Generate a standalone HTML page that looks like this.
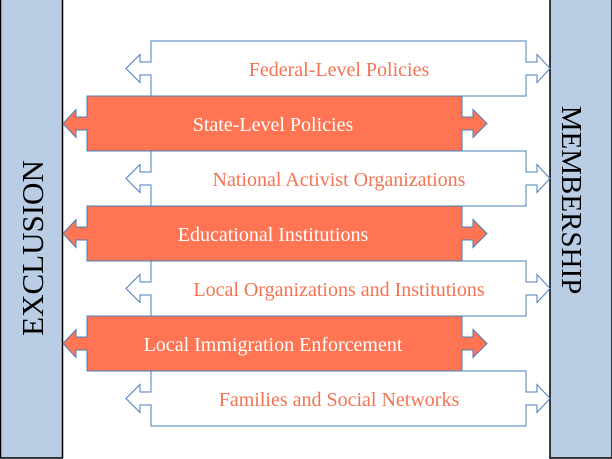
<!DOCTYPE html>
<html><head><meta charset="utf-8"><style>
html,body{margin:0;padding:0;background:#fff;}
svg{display:block;}
text{font-family:"Liberation Serif",serif;font-size:20px;}
</style></head><body>
<svg width="612" height="459" viewBox="0 0 612 459">
<rect x="0.5" y="-1" width="62" height="459" fill="#b9cde5" stroke="#000" stroke-width="1.5"/>
<rect x="550" y="-1" width="62" height="459" fill="#b9cde5" stroke="#000" stroke-width="1.5"/>
<g fill="#fff" stroke="#4a7ebb" stroke-width="1">
<polygon points="151,41 526,41 526,62 537,62 537,54.5 550,68.5 537,82.5 537,75 526,75 526,96 151,96 151,75 140,75 140,82.5 126,68.5 140,54.5 140,62 151,62"/>
<polygon points="151,151 526,151 526,172 537,172 537,164.5 550,178.5 537,192.5 537,185 526,185 526,206 151,206 151,185 140,185 140,192.5 126,178.5 140,164.5 140,172 151,172"/>
<polygon points="151,261 526,261 526,282 537,282 537,274.5 550,288.5 537,302.5 537,295 526,295 526,316 151,316 151,295 140,295 140,302.5 126,288.5 140,274.5 140,282 151,282"/>
<polygon points="151,371 526,371 526,392 537,392 537,384.5 550,398.5 537,412.5 537,405 526,405 526,426 151,426 151,405 140,405 140,412.5 126,398.5 140,384.5 140,392 151,392"/>
</g>
<g fill="#ff7452" stroke="#4a7ebb" stroke-width="1">
<polygon points="87,96 462,96 462,117 473,117 473,109.5 487,123.5 473,137.5 473,130 462,130 462,151 87,151 87,130 76,130 76,137.5 63,123.5 76,109.5 76,117 87,117"/>
<polygon points="87,206 462,206 462,227 473,227 473,219.5 487,233.5 473,247.5 473,240 462,240 462,261 87,261 87,240 76,240 76,247.5 63,233.5 76,219.5 76,227 87,227"/>
<polygon points="87,316 462,316 462,337 473,337 473,329.5 487,343.5 473,357.5 473,350 462,350 462,371 87,371 87,350 76,350 76,357.5 63,343.5 76,329.5 76,337 87,337"/>
</g>
<g fill="#f47352" text-anchor="middle">
<text x="339" y="76">Federal-Level Policies</text>
<text x="339" y="186">National Activist Organizations</text>
<text x="339" y="296">Local Organizations and Institutions</text>
<text x="339" y="406">Families and Social Networks</text>
</g>
<g fill="#fff" text-anchor="middle">
<text x="273" y="131">State-Level Policies</text>
<text x="273" y="241">Educational Institutions</text>
<text x="273" y="351">Local Immigration Enforcement</text>
</g>
<text transform="translate(43,248) rotate(-90)" text-anchor="middle" style="font-size:31px" fill="#000">EXCLUSION</text>
<text transform="translate(562,200) rotate(90)" text-anchor="middle" style="font-size:29px" fill="#000">MEMBERSHIP</text>
</svg>
</body></html>
